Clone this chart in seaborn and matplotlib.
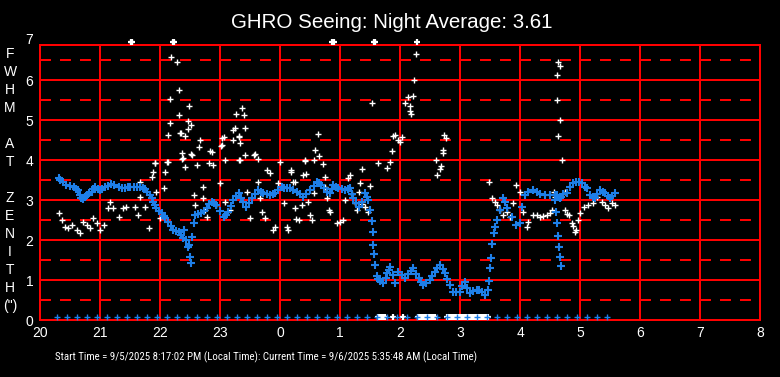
import pandas as pd
import seaborn as sns
import matplotlib.pyplot as plt
from matplotlib import font_manager

# FWHM seeing samples, hours since midnight of start day (24+ = next day)
blue_hours = [
    20.31, 20.34, 20.39, 20.44, 20.50, 20.56, 20.60, 20.64, 20.67, 20.69, 20.72, 20.75,
    20.78, 20.82, 20.86, 20.89, 20.92, 20.96, 21.00, 21.04, 21.08, 21.13, 21.19, 21.24,
    21.31, 21.36, 21.42, 21.47, 21.50, 21.56, 21.61, 21.67, 21.72, 21.75, 21.79, 21.83,
    21.86, 21.89, 21.92, 21.94, 21.98, 22.03, 22.06, 22.08, 22.14, 22.18, 22.22, 22.27,
    22.31, 22.35, 22.39, 22.44, 22.40, 22.47, 22.48, 22.50, 22.51, 22.53, 22.56,
    22.58, 22.63, 22.69, 22.74, 22.78, 22.82, 22.86, 22.90, 22.94, 23.00, 23.06, 23.10,
    23.14, 23.18, 23.22, 23.27, 23.31, 23.35, 23.39, 23.44, 23.48, 23.53, 23.58, 23.64,
    23.68, 23.72, 23.78, 23.83, 23.88, 23.92, 23.97, 24.03, 24.07, 24.11, 24.17, 24.22,
    24.28, 24.33, 24.39, 24.44, 24.50, 24.56, 24.61, 24.65, 24.69, 24.74, 24.78, 24.83,
    24.86, 24.89, 24.93, 24.97, 25.03, 25.08, 25.13, 25.17, 25.20, 25.22, 25.27, 25.31,
    25.36, 25.42, 25.45, 25.47, 25.50, 25.53, 25.545, 25.555, 25.57, 25.585, 25.61, 25.64,
    25.67, 25.72, 25.76, 25.79, 25.81, 25.84, 25.88, 25.92, 25.97, 26.03, 26.08, 26.14,
    26.18, 26.22, 26.27, 26.31, 26.35, 26.39, 26.44, 26.50, 26.54, 26.58, 26.62, 26.67,
    26.71, 26.75, 26.79, 26.83, 26.89, 26.94, 27.00, 27.04, 27.08, 27.12, 27.17, 27.22,
    27.28, 27.32, 27.36, 27.42, 27.47, 27.48, 27.50, 27.52, 27.53, 27.56, 27.58, 27.61,
    27.67, 27.72, 27.75, 27.78, 27.86, 27.94, 28.00, 28.03, 28.08, 28.14, 28.22, 28.28,
    28.33, 28.42, 28.50, 28.58, 28.61, 28.59, 28.60, 28.62, 28.64, 28.65, 28.67, 28.68,
    28.66, 28.69, 28.72, 28.78, 28.83, 28.89, 28.94, 28.99, 29.03, 29.08, 29.11, 29.17,
    29.22, 29.25, 29.29, 29.33, 29.38, 29.42, 29.46, 29.50, 29.54, 29.58,
]
blue_fwhm = [
    3.54, 3.50, 3.45, 3.38, 3.35, 3.32, 3.28, 3.25, 3.12, 3.04, 3.02, 3.08,
    3.12, 3.17, 3.21, 3.27, 3.32, 3.28, 3.25, 3.27, 3.32, 3.36, 3.40, 3.37,
    3.33, 3.30, 3.29, 3.32, 3.33, 3.33, 3.32, 3.33, 3.30, 3.27, 3.20, 3.12,
    3.04, 2.96, 2.88, 2.79, 2.72, 2.67, 2.60, 2.54, 2.46, 2.35, 2.25, 2.22,
    2.21, 2.12, 2.04, 2.00, 2.25, 1.83, 1.88, 1.58, 1.42, 2.08, 2.43,
    2.62, 2.66, 2.67, 2.73, 2.79, 2.90, 2.96, 2.92, 2.88, 2.72, 2.57, 2.63,
    2.71, 2.85, 3.00, 3.10, 3.17, 3.05, 2.96, 2.83, 2.92, 3.04, 3.15, 3.25,
    3.21, 3.17, 3.14, 3.12, 3.15, 3.17, 3.25, 3.33, 3.31, 3.29, 3.29, 3.25,
    3.21, 3.15, 3.08, 3.15, 3.25, 3.36, 3.46, 3.42, 3.38, 3.29, 3.21, 3.17,
    3.27, 3.38, 3.33, 3.29, 3.27, 3.25, 3.27, 3.29, 3.15, 3.04, 2.92, 2.83,
    2.96, 3.17, 3.08, 3.00, 2.75, 2.47, 2.19, 1.88, 1.64, 1.37, 1.11, 1.02,
    0.98, 0.92, 1.05, 1.18, 1.25, 1.33, 1.12, 0.92, 1.21, 1.12, 1.04, 1.15,
    1.22, 1.29, 1.15, 1.04, 0.95, 0.88, 0.92, 1.00, 1.10, 1.21, 1.30, 1.38,
    1.28, 1.17, 1.02, 0.88, 0.71, 0.70, 0.71, 0.85, 0.96, 0.80, 0.67, 0.72,
    0.75, 0.74, 0.71, 0.63, 0.75, 0.98, 1.29, 1.56, 1.89, 2.17, 2.33, 2.50,
    2.75, 3.04, 2.95, 2.79, 2.58, 2.38, 2.42, 2.83, 3.12, 3.20, 3.25, 3.21,
    3.15, 3.13, 3.12, 3.12, 3.12, 3.00, 2.70, 2.42, 2.10, 1.83, 1.58, 1.35,
    3.05, 3.08, 3.15, 3.17, 3.33, 3.42, 3.46, 3.44, 3.42, 3.33, 3.29, 3.13,
    3.08, 3.04, 3.15, 3.25, 3.21, 3.17, 3.10, 3.04, 3.10, 3.17,
]

# raw (white) samples
white_hours = [
    20.31, 20.36, 20.42, 20.47, 20.53, 20.61, 20.67, 20.72, 20.78, 20.83, 20.89, 20.95,
    21.00, 21.06, 21.14, 21.17, 21.22, 21.31, 21.39, 21.44, 21.58, 21.64, 21.67, 21.67,
    21.75, 21.81, 21.86, 21.89, 21.92, 21.94, 22.00, 22.06, 22.08, 22.11, 22.14, 22.33,
    22.36, 22.39, 22.42, 22.53, 22.56, 22.58, 22.61, 22.67, 22.71, 22.72, 22.75, 22.78,
    22.86, 22.89, 22.94, 23.00, 23.03, 23.06, 23.08, 23.17, 23.22, 23.22, 23.31, 23.33,
    23.33, 23.42, 23.45, 23.50, 23.56, 23.64, 23.67, 23.70, 23.75, 23.78, 23.83, 23.89,
    23.92, 23.97, 24.00, 24.06, 24.11, 24.13, 24.19, 24.22, 24.25, 24.31,
    22.18, 22.29, 22.31, 22.17, 22.49, 22.32, 22.16, 22.47, 22.51, 22.46, 22.35, 22.42,
    22.65, 22.52, 22.37, 21.92, 22.13, 22.83, 22.82, 23.04, 23.02, 23.25, 23.27, 23.37,
    23.40, 23.41, 23.31, 23.08, 23.32, 23.58, 23.64, 24.41, 24.59, 24.65, 24.57, 24.64,
    24.71, 25.53, 25.64, 25.83, 25.86, 25.88, 25.91, 26.03, 25.97, 26.08, 26.14, 26.22,
    26.17, 26.17, 26.19, 26.24, 26.27,
    24.42, 24.19, 24.39, 24.44, 24.75, 24.25, 24.75, 24.56, 24.78, 24.47, 24.36, 24.81,
    24.83, 24.50, 24.53, 24.27, 25.00, 24.95, 25.05, 25.17, 25.14, 25.36, 25.33, 25.50,
    25.31, 25.20, 25.08, 25.25, 25.42, 25.47, 25.28, 25.37, 25.78, 26.00,
    26.60, 26.61, 26.66, 26.69, 26.72, 26.71, 26.74, 26.77,
    27.49, 27.53, 27.58, 27.61, 27.67, 27.72, 27.78, 27.83, 27.89, 27.94, 28.00, 28.05,
    28.11, 28.13, 28.22, 28.28, 28.33, 28.38, 28.45, 28.50, 28.56, 28.58, 28.53, 28.63,
    28.67, 28.62, 28.62, 28.67, 28.63, 28.70, 28.75, 28.75, 28.78, 28.81, 28.86, 28.94,
    28.92, 28.88, 29.00, 28.97, 29.06, 29.14, 29.22, 29.28, 29.36, 29.42, 29.47, 29.53,
    29.58,
]
white_fwhm = [
    2.67, 2.50, 2.33, 2.29, 2.38, 2.25, 2.17, 2.46, 2.38, 2.29, 2.54, 2.42,
    2.25, 2.38, 2.79, 2.96, 2.79, 2.58, 2.79, 2.83, 2.83, 2.63, 3.46, 3.08,
    2.83, 2.29, 3.58, 3.71, 3.92, 3.21, 2.54, 3.29, 3.71, 3.96, 4.63, 4.67,
    4.17, 4.04, 3.83, 4.13, 3.13, 2.88, 3.88, 4.50, 3.33, 3.04, 2.75, 2.58,
    4.21, 3.88, 2.88, 3.42, 4.38, 4.58, 2.96, 2.75, 4.50, 4.75, 4.58, 4.42,
    4.00, 4.13, 3.21, 2.54, 4.13, 3.46, 3.04, 2.71, 2.54, 3.75, 3.67, 2.25,
    2.33, 3.42, 3.96, 2.92, 2.33, 2.25, 3.71, 3.46, 2.79, 2.50,
    6.57, 6.44, 5.75, 5.52, 5.35, 5.13, 4.92, 4.97, 4.88, 4.77, 4.67, 4.60,
    4.33, 4.15, 4.02, 3.93, 3.95, 4.22, 3.92, 4.56, 4.35, 4.79, 5.14, 5.29,
    5.13, 4.79, 4.61, 4.00, 4.00, 4.15, 4.02, 3.98, 4.25, 4.11, 4.00, 4.64,
    3.89, 5.42, 3.93, 3.96, 4.22, 4.61, 4.62, 4.58, 4.50, 5.42, 5.58, 5.61,
    5.36, 5.23, 5.15, 6.00, 6.64,
    4.00, 3.75, 3.63, 3.65, 3.58, 3.46, 3.33, 3.17, 3.04, 2.96, 2.88, 2.75,
    2.70, 2.63, 2.50, 2.52, 2.46, 2.42, 2.50, 3.63, 3.55, 3.77, 3.42, 3.35,
    3.21, 3.15, 3.00, 2.92, 2.83, 2.71, 2.75, 2.90, 3.79, 4.46,
    4.00, 3.63, 3.77, 3.85, 4.17, 4.25, 4.63, 4.55,
    3.44, 3.04, 2.96, 2.88, 2.75, 2.63, 2.70, 2.58, 2.92, 3.38, 3.21, 2.71,
    2.33, 2.45, 2.63, 2.63, 2.58, 2.60, 2.63, 2.67, 3.21, 3.08, 2.75, 6.45,
    6.35, 6.12, 5.50, 5.00, 4.60, 4.00, 3.21, 2.75, 2.65, 2.63, 2.42, 2.25,
    2.20, 2.35, 2.67, 2.50, 2.83, 2.88, 2.92, 3.08, 2.96, 2.88, 2.79, 2.92,
    2.88,
]

# off-scale samples pinned to the top edge
top_hours = [21.51, 21.54, 22.21, 22.24, 24.87, 24.90, 25.56, 25.59, 26.29]
top_fwhm = [6.95, 6.95, 6.95, 6.95, 6.95, 6.95, 6.95, 6.95, 6.95]

# zero readings along the bottom
zero_blue_hours = [
    20.28, 20.45, 20.62, 20.78, 20.95, 21.12, 21.28, 21.45, 21.62, 21.78, 21.95, 22.12,
    22.28, 22.45, 22.62, 22.78, 22.95, 23.12, 23.28, 23.45, 23.62, 23.78, 23.95, 24.12,
    24.28, 24.45, 24.62, 24.78, 24.95, 25.12, 25.28, 25.45, 25.62, 25.78, 25.95, 26.12,
    26.28, 26.45, 26.62, 26.78, 26.95, 27.12, 27.28, 27.45, 27.62, 27.78, 27.95, 28.12,
    28.28, 28.45, 28.62, 28.78, 28.95, 29.12, 29.28, 29.45,
]
zero_white_hours = [
    25.63, 25.65, 25.67, 25.69, 25.71, 25.73, 25.75, 25.88, 26.05,
    26.30, 26.32, 26.34, 26.36, 26.38, 26.40, 26.42, 26.44, 26.46, 26.48, 26.50,
    26.52, 26.54, 26.56, 26.58,
    26.78, 26.81, 26.84, 26.87, 26.90, 26.93, 26.96, 26.99, 27.02, 27.05, 27.08, 27.11,
    27.14, 27.17, 27.20, 27.23, 27.26, 27.29, 27.32, 27.35, 27.38, 27.41, 27.44, 27.47,
]
ZERO_LEVEL = 0.07

hour_ticks = list(range(20, 33))
hour_labels = ["20", "21", "22", "23", "0", "1", "2", "3", "4", "5", "6", "7", "8"]
ylabel_letters = ["F", "W", "H", "M", "", "A", "T", "", "Z", "E", "N", "I", "T", "H", '(")']

TITLE = "GHRO Seeing: Night Average: 3.61"
FOOTER = ("Start Time = 9/5/2025 8:17:02 PM (Local Time): "
          "Current Time = 9/6/2025 5:35:48 AM (Local Time)")

BLUE = "#1e7fe8"
RED = "#ff0000"

blue_df = pd.DataFrame({"hour": blue_hours, "fwhm": blue_fwhm})
white_df = pd.DataFrame({"hour": white_hours, "fwhm": white_fwhm})
top_df = pd.DataFrame({"hour": top_hours, "fwhm": top_fwhm})
zb_df = pd.DataFrame({"hour": zero_blue_hours, "fwhm": [ZERO_LEVEL] * len(zero_blue_hours)})
zw_df = pd.DataFrame({"hour": zero_white_hours, "fwhm": [ZERO_LEVEL] * len(zero_white_hours)})

sns.set_style("dark")
plt.rcParams["font.family"] = ["Liberation Sans", "DejaVu Sans"]
plt.rcParams["lines.scale_dashes"] = False

# footer uses a narrow face if one is installed, else a smaller regular one
installed = {f.name for f in font_manager.fontManager.ttflist}
narrow = [n for n in ["Liberation Sans Narrow", "Arial Narrow", "Roboto Condensed",
                      "Open Sans Condensed"] if n in installed]
if narrow:
    footer_font, footer_size = [narrow[0], "DejaVu Sans"], 7.8
else:
    footer_font, footer_size = ["Liberation Sans", "DejaVu Sans"], 6.4

W, H = 780, 377
fig = plt.figure(figsize=(W / 100, H / 100), dpi=100, facecolor="black")
ax = fig.add_axes([40 / W, (H - 320) / H, 720 / W, 275 / H])
ax.set_facecolor("black")

# grid
ax.set_xlim(20, 32)
ax.set_ylim(0, 6.875)
ax.set_xticks(hour_ticks)
ax.set_xticklabels(hour_labels)
ax.set_yticks(range(0, 7))
ax.set_yticks([i + 0.5 for i in range(7)], minor=True)
ax.grid(which="major", color=RED, lw=1.44, ls="-")
ax.grid(which="minor", axis="y", color=RED, lw=1.44, ls=(0, (7.9, 6.5)))
ax.grid(which="minor", axis="x", visible=False)
ax.set_axisbelow(True)
for s in ax.spines.values():
    s.set_color(RED)
    s.set_linewidth(1.44)
    s.set_visible(True)
ax.tick_params(which="both", length=0, colors="white", labelsize=10)
ax.tick_params(axis="x", pad=4.3)
ax.tick_params(axis="y", pad=4.8)
ax.text(-0.0093, 7, "7", transform=ax.get_yaxis_transform(), ha="right", va="center",
        color="white", fontsize=10, clip_on=False)

# data
sns.scatterplot(data=white_df, x="hour", y="fwhm", marker="+", color="white",
                s=16, linewidth=1.0, ax=ax, zorder=3)
sns.scatterplot(data=zw_df, x="hour", y="fwhm", marker="+", color="white",
                s=16, linewidth=1.6, ax=ax, zorder=3)
sns.scatterplot(data=top_df, x="hour", y="fwhm", marker="+", color="white",
                s=16, linewidth=1.6, ax=ax, zorder=3, clip_on=False)
sns.scatterplot(data=blue_df, x="hour", y="fwhm", marker="+", color=BLUE,
                s=26, linewidth=1.5, ax=ax, zorder=4)
sns.scatterplot(data=zb_df, x="hour", y="fwhm", marker="+", color=BLUE,
                s=16, linewidth=1.0, ax=ax, zorder=4)
ax.set_xlabel("")
ax.set_ylabel("")

# texts
fig.text(392 / W, 1 - 27.7 / H, TITLE, ha="center", va="baseline", color="white",
         fontsize=14.8)
for i, ch in enumerate(ylabel_letters):
    fig.text(10 / W, 1 - (58 + 18 * i) / H, ch, ha="center", va="baseline",
             color="white", fontsize=10)
fig.text(55 / W, 1 - 360 / H, FOOTER, ha="left", va="baseline", color="white",
         fontsize=footer_size, family=footer_font)

fig.savefig("out.png", dpi=100, facecolor="black")
